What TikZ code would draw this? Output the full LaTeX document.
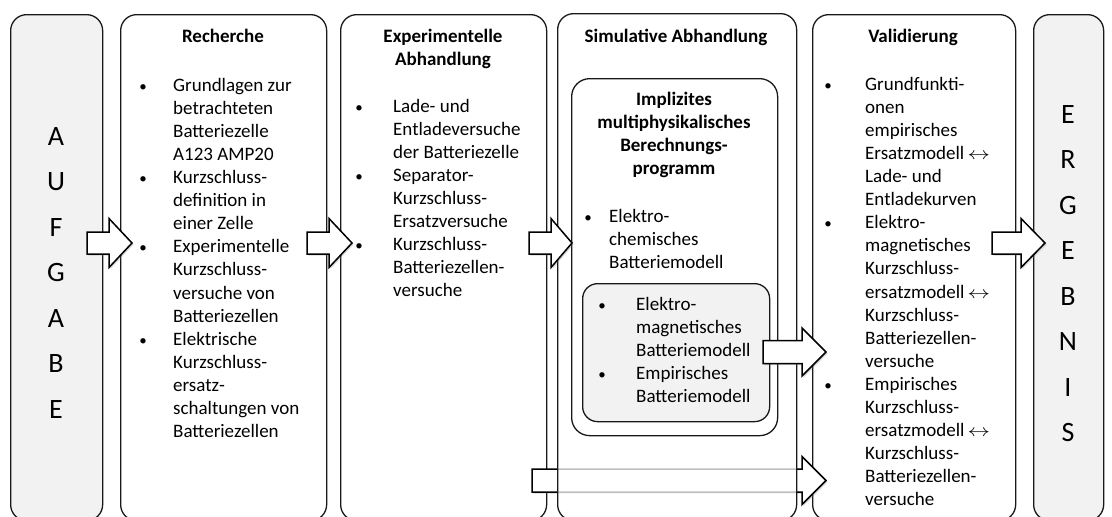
\documentclass[tikz,border=0pt]{standalone}
\usepackage{fontspec}
\usepackage{graphicx}
\setmainfont{Carlito}
\usetikzlibrary{shadows}
\newcommand\bul[1]{\llap{\makebox[0pt]{\fontsize{15}{15}\selectfont\textbullet}\hspace{#1}}}
\newcommand\lr{\,\scalebox{1.3}[1]{$\leftrightarrow$}}
\begin{document}
\begin{tikzpicture}[x=1pt,y=-1pt,
  box/.style={draw=black!90, line width=1.3pt, rounded corners=16pt, inner sep=0pt, anchor=north west},
  gbox/.style={box, fill=gray!10},
  txt/.style={inner sep=0pt, font=\fontsize{19}{23.1}\selectfont, align=left, anchor=north west},
  ttl/.style={inner sep=0pt, font=\bfseries\fontsize{19}{23.1}\selectfont, align=center, anchor=north},
  big/.style={inner sep=0pt, font=\fontsize{28}{45.5}\selectfont, align=center, anchor=north},
  barrow/.style={draw=black, line width=1.5pt, fill=white, line join=miter,
    drop shadow={opacity=0.3, shadow xshift=1.5pt, shadow yshift=-1.5pt}}
]
\useasboundingbox (0,0) rectangle (1112,517);
\clip (0,0) rectangle (1112,517);
% outer boxes
\node[gbox, minimum width=92pt, minimum height=506pt] (aufgabe) at (10,14) {};
\node[box, minimum width=206pt, minimum height=506pt] (rech) at (120,14) {};
\node[box, minimum width=206pt, minimum height=506pt] (exp) at (340,14) {};
\node[box, minimum width=203pt, minimum height=506pt] (valid) at (812,14) {};
\node[gbox, minimum width=70pt, minimum height=506pt] (erg) at (1033,14) {};
% long arrow behind simulation box
\coordinate (a5s) at (532,480.5);
\draw[barrow] (a5s) ++(0,-11.5) -- (802,469) -- (802,456.5) -- (826,480.5) -- (802,504.5) -- (802,492) -- (532,492) -- cycle;
% simulation box
\node[box, fill=white, fill opacity=0.75, minimum width=239pt, minimum height=507pt] (sim) at (557,13) {};
\node[box, rounded corners=18pt, minimum width=206pt, minimum height=357pt] (impl) at (571,78) {};
\node[gbox, rounded corners=15pt, minimum width=187pt, minimum height=138pt] (grey) at (582,283) {};
% block arrows
\draw[barrow] (87,232) -- (109,232) -- (109,218.5) -- (132,243) -- (109,267.5) -- (109,254) -- (87,254) -- cycle;
\draw[barrow] (307,232) -- (329,232) -- (329,218.5) -- (352,243) -- (329,267.5) -- (329,254) -- (307,254) -- cycle;
\draw[barrow] (529,232) -- (551,232) -- (551,218.5) -- (572,243) -- (551,267.5) -- (551,254) -- (529,254) -- cycle;
\draw[barrow] (763,340.5) -- (802,340.5) -- (802,328) -- (826,352) -- (802,376) -- (802,363.5) -- (763,363.5) -- cycle;
\draw[barrow] (992,232) -- (1021,232) -- (1021,218.5) -- (1045,243) -- (1021,267.5) -- (1021,254) -- (992,254) -- cycle;
% texts
\node[big] (tauf) at (56,113.2) {\strut A\\U\\F\\G\\A\\B\\E};
\node[big] (terg) at (1068,91.2) {\strut E\\R\\G\\E\\B\\N\\I\\S};
\node[ttl] (trech) at (223,25.8) {\strut Recherche};
\node[txt] (lrech) at (173,74.8) {\strut\bul{30pt}Grundlagen zur\\betrachteten\\Batteriezelle\\A123 AMP20\\\bul{30pt}Kurzschluss-\\definition in\\einer Zelle\\\bul{30pt}Experimentelle\\Kurzschluss-\\versuche von\\Batteriezellen\\\bul{30pt}Elektrische\\Kurzschluss-\\ersatz-\\schaltungen von\\Batteriezellen};
\node[ttl] (texp) at (443,25.8) {\strut Experimentelle\\Abhandlung};
\node[txt] (lexp) at (393,95.8) {\strut\bul{34pt}Lade- und\\Entladeversuche\\der Batteriezelle\\\bul{34pt}Separator-\\Kurzschluss-\\Ersatzversuche\\\bul{34pt}Kurzschluss-\\Batteriezellen-\\versuche};
\node[ttl] (tsim) at (676,25.8) {\strut Simulative Abhandlung};
\node[ttl] (timpl) at (674,88.8) {\strut Implizites\\multiphysikalisches\\Berechnungs-\\programm};
\node[txt] (lsim) at (609,205.8) {\strut\bul{21pt}Elektro-\\chemisches\\Batteriemodell};
\node[txt] (lgrey) at (636,293.8) {\strut\bul{34pt}Elektro-\\magnetisches\\Batteriemodell\\\bul{34pt}Empirisches\\Batteriemodell};
\node[ttl] (tval) at (913,25.8) {\strut Validierung};
\node[txt] (lval) at (865,73.8) {\strut\bul{37pt}Grundfunkti-\\onen\\empirisches\\Ersatzmodell\lr\\Lade- und\\Entladekurven\\\bul{37pt}Elektro-\\magnetisches\\Kurzschluss-\\ersatzmodell\lr\\Kurzschluss-\\Batteriezellen-\\versuche\\\bul{37pt}Empirisches\\Kurzschluss-\\ersatzmodell\lr\\Kurzschluss-\\Batteriezellen-\\versuche};
\end{tikzpicture}
\end{document}
